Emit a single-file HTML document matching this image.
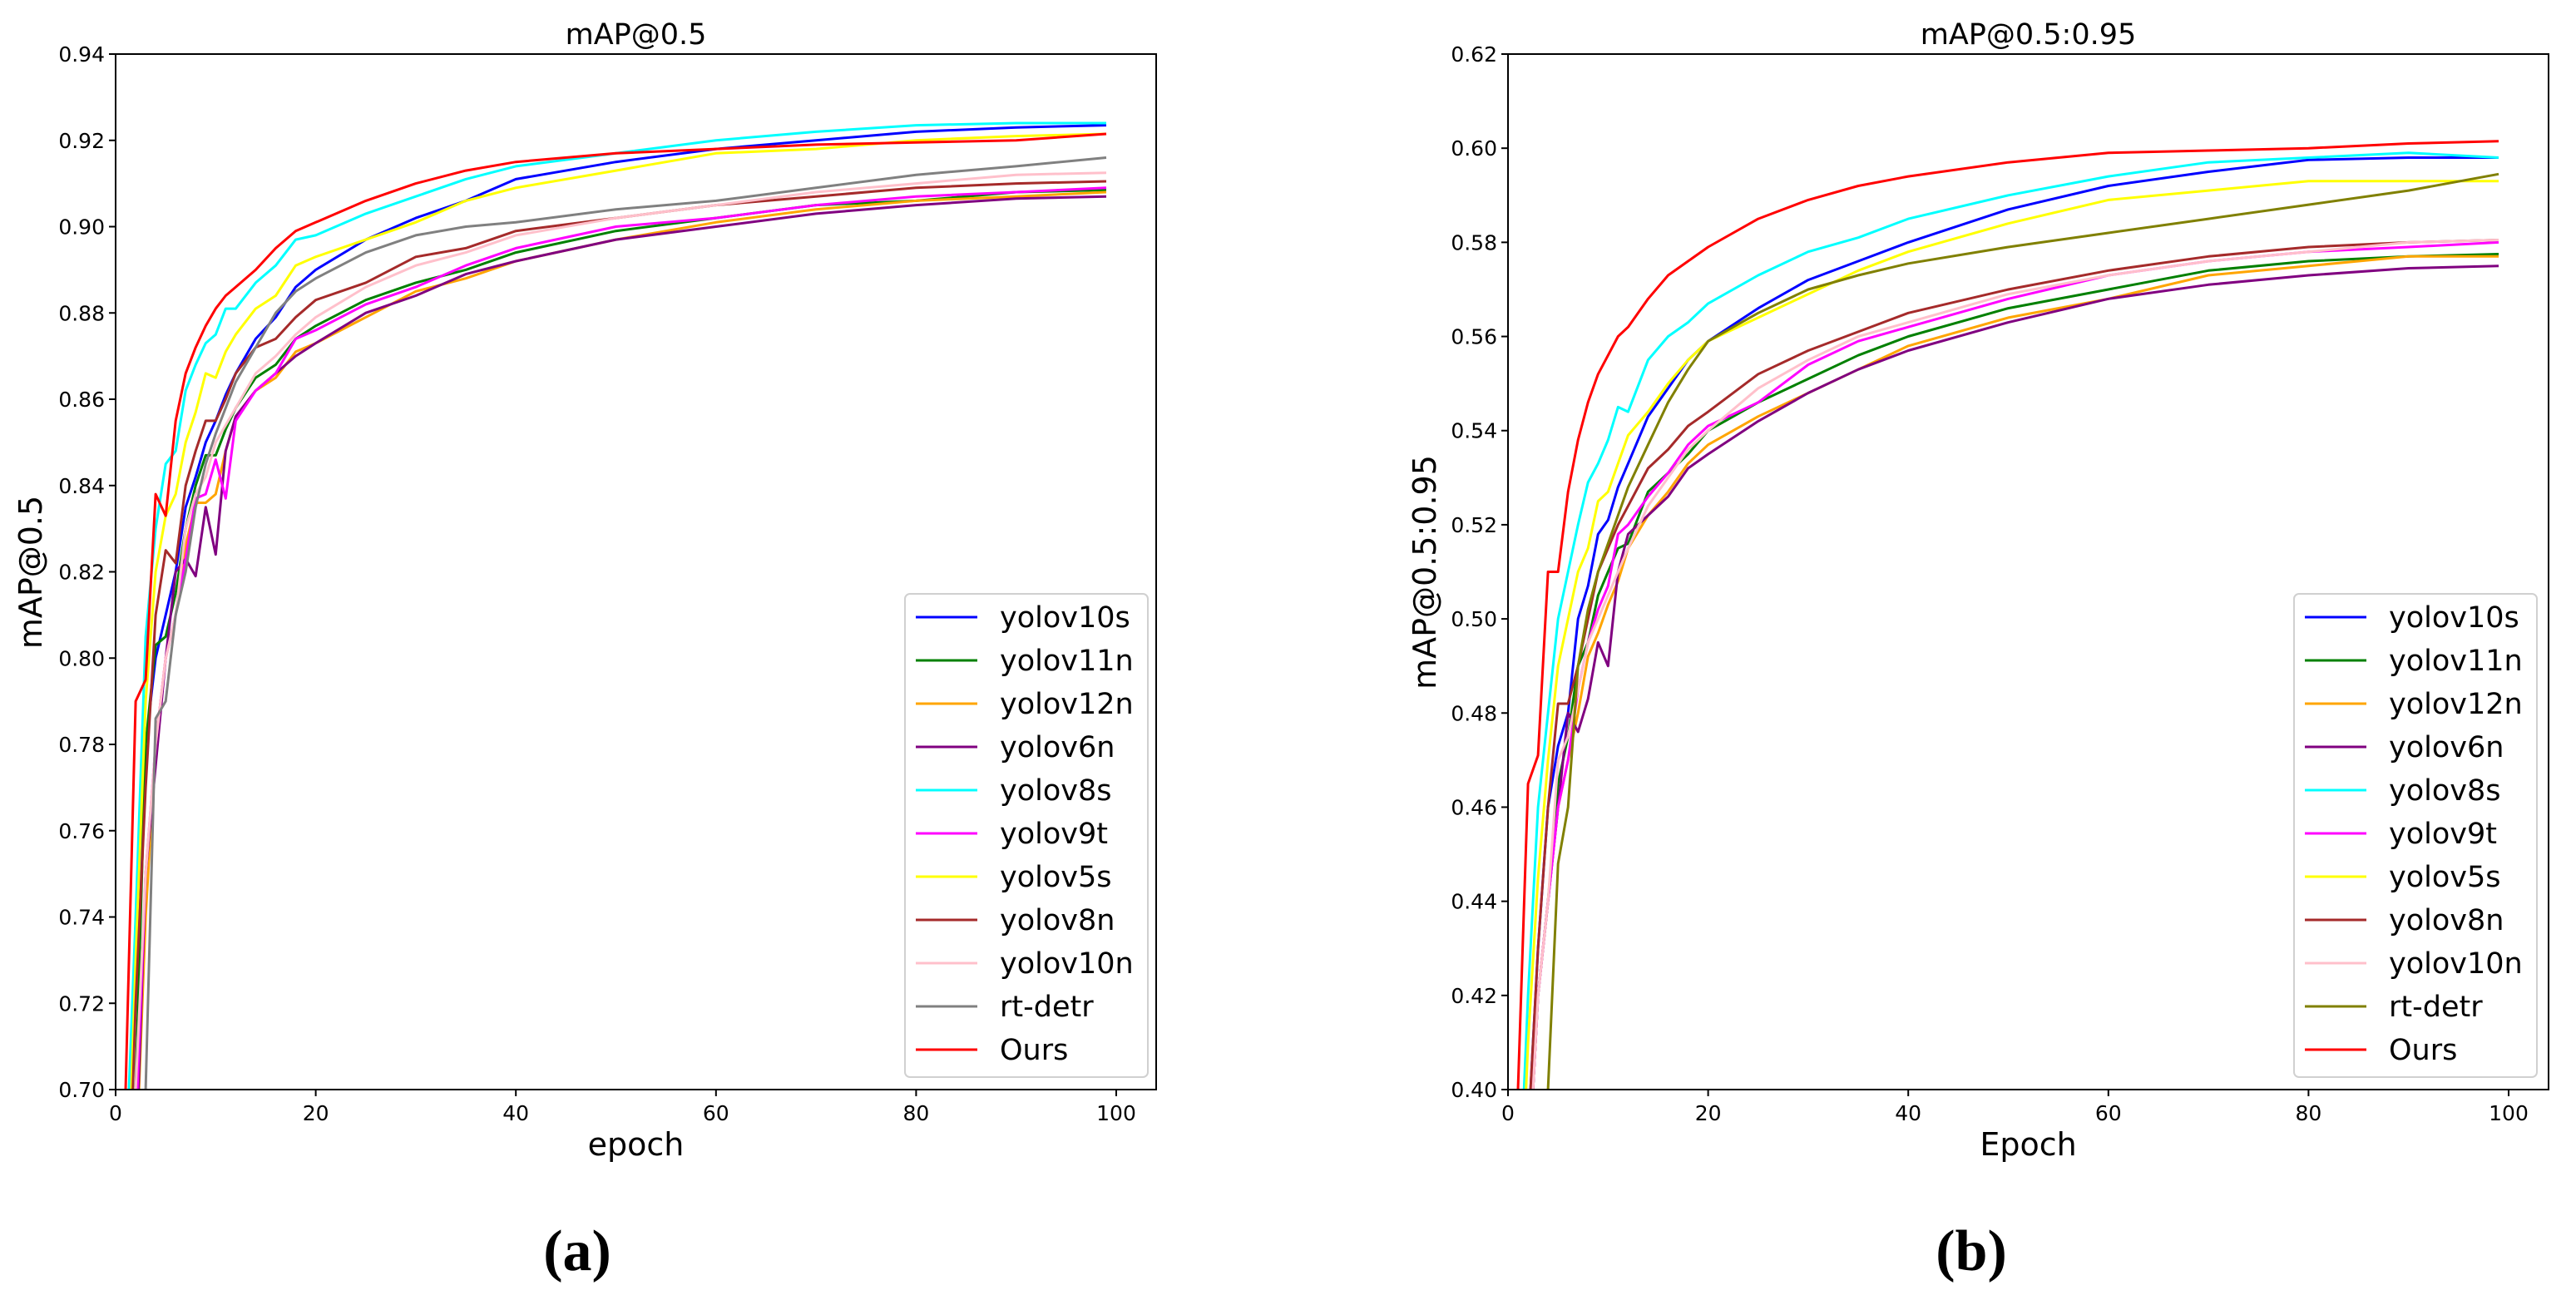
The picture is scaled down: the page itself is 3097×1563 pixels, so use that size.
<!DOCTYPE html>
<html><head><meta charset="utf-8"><style>
html,body{margin:0;padding:0;background:#fff;width:3097px;height:1563px;overflow:hidden;}
svg{display:block;font-family:"DejaVu Sans","Liberation Sans",sans-serif;}
</style></head><body>
<svg id="fig" width="3097" height="1563" viewBox="0 0 3097 1563" xmlns="http://www.w3.org/2000/svg"></svg>
<script>
const epochs = [1,2,3,4,5,6,7,8,9,10,11,12,14,16,18,20,25,30,35,40,50,60,70,80,90,99];
const seriesNames = ["yolov10s","yolov11n","yolov12n","yolov6n","yolov8s","yolov9t","yolov5s","yolov8n","yolov10n","rt-detr","Ours"];
const colorsA = ["#0000ff","#008000","#ffa500","#800080","#00ffff","#ff00ff","#ffff00","#a52a2a","#ffc0cb","#808080","#ff0000"];
const colorsB = ["#0000ff","#008000","#ffa500","#800080","#00ffff","#ff00ff","#ffff00","#a52a2a","#ffc0cb","#808000","#ff0000"];
const ticksA = ["0.70","0.72","0.74","0.76","0.78","0.80","0.82","0.84","0.86","0.88","0.90","0.92","0.94"];
const ticksB = ["0.40","0.42","0.44","0.46","0.48","0.50","0.52","0.54","0.56","0.58","0.60","0.62"];
const xTicks = [0,20,40,60,80,100];
// chart (a) mAP@0.5
const a_yolov10s = [0.66,0.72,0.78,0.80,0.81,0.82,0.835,0.842,0.850,0.855,0.861,0.866,0.874,0.879,0.886,0.890,0.897,0.902,0.906,0.911,0.915,0.918,0.920,0.922,0.923,0.9235];
const a_yolov11n = [0.64,0.70,0.78,0.803,0.805,0.815,0.830,0.840,0.847,0.847,0.853,0.858,0.865,0.868,0.874,0.877,0.883,0.887,0.890,0.894,0.899,0.902,0.905,0.906,0.908,0.9085];
const a_yolov12n = [0.63,0.68,0.74,0.78,0.80,0.81,0.826,0.836,0.836,0.838,0.848,0.856,0.862,0.865,0.871,0.873,0.879,0.885,0.888,0.892,0.897,0.901,0.904,0.906,0.907,0.908];
const a_yolov6n = [0.63,0.68,0.75,0.775,0.80,0.82,0.823,0.819,0.835,0.824,0.848,0.856,0.862,0.866,0.870,0.873,0.880,0.884,0.889,0.892,0.897,0.900,0.903,0.905,0.9065,0.907];
const a_yolov8s = [0.68,0.74,0.805,0.830,0.845,0.848,0.862,0.868,0.873,0.875,0.881,0.881,0.887,0.891,0.897,0.898,0.903,0.907,0.911,0.914,0.917,0.920,0.922,0.9235,0.924,0.924];
const a_yolov9t = [0.63,0.69,0.75,0.78,0.80,0.81,0.823,0.837,0.838,0.846,0.837,0.855,0.862,0.866,0.874,0.876,0.882,0.886,0.891,0.895,0.900,0.902,0.905,0.907,0.908,0.909];
const a_yolov5s = [0.66,0.73,0.79,0.82,0.833,0.838,0.850,0.857,0.866,0.865,0.871,0.875,0.881,0.884,0.891,0.893,0.897,0.901,0.906,0.909,0.913,0.917,0.918,0.920,0.921,0.9215];
const a_yolov8n = [0.65,0.72,0.77,0.81,0.825,0.822,0.840,0.848,0.855,0.855,0.860,0.866,0.872,0.874,0.879,0.883,0.887,0.893,0.895,0.899,0.902,0.905,0.907,0.909,0.910,0.9105];
const a_yolov10n = [0.64,0.70,0.75,0.78,0.80,0.81,0.830,0.838,0.842,0.850,0.854,0.858,0.866,0.870,0.875,0.879,0.886,0.891,0.894,0.898,0.902,0.905,0.908,0.910,0.912,0.9125];
const a_rtdetr = [0.62,0.66,0.70,0.786,0.790,0.810,0.820,0.835,0.845,0.852,0.858,0.864,0.872,0.880,0.885,0.888,0.894,0.898,0.900,0.901,0.904,0.906,0.909,0.912,0.914,0.916];
const a_ours = [0.70,0.790,0.795,0.838,0.833,0.855,0.866,0.872,0.877,0.881,0.884,0.886,0.890,0.895,0.899,0.901,0.906,0.910,0.913,0.915,0.917,0.918,0.919,0.9195,0.920,0.9215];
// chart (b) mAP@0.5:0.95
const b_yolov10s = [0.36,0.39,0.43,0.46,0.473,0.480,0.500,0.507,0.518,0.521,0.528,0.533,0.543,0.549,0.555,0.559,0.566,0.572,0.576,0.580,0.587,0.592,0.595,0.5975,0.598,0.598];
const b_yolov11n = [0.35,0.38,0.42,0.44,0.465,0.475,0.490,0.495,0.505,0.510,0.515,0.516,0.527,0.531,0.535,0.540,0.546,0.551,0.556,0.560,0.566,0.570,0.574,0.576,0.577,0.5775];
const b_yolov12n = [0.35,0.38,0.42,0.44,0.460,0.470,0.480,0.492,0.497,0.503,0.508,0.515,0.522,0.527,0.533,0.537,0.543,0.548,0.553,0.558,0.564,0.568,0.573,0.575,0.577,0.577];
const b_yolov6n = [0.35,0.38,0.42,0.44,0.460,0.480,0.476,0.483,0.495,0.490,0.510,0.518,0.522,0.526,0.532,0.535,0.542,0.548,0.553,0.557,0.563,0.568,0.571,0.573,0.5745,0.575];
const b_yolov8s = [0.37,0.42,0.46,0.48,0.500,0.510,0.520,0.529,0.533,0.538,0.545,0.544,0.555,0.560,0.563,0.567,0.573,0.578,0.581,0.585,0.590,0.594,0.597,0.598,0.599,0.598];
const b_yolov9t = [0.35,0.38,0.42,0.44,0.460,0.470,0.485,0.495,0.502,0.507,0.518,0.520,0.526,0.531,0.537,0.541,0.546,0.554,0.559,0.562,0.568,0.573,0.576,0.578,0.579,0.580];
const b_yolov5s = [0.36,0.41,0.445,0.47,0.490,0.500,0.510,0.515,0.525,0.527,0.533,0.539,0.544,0.550,0.555,0.559,0.564,0.569,0.574,0.578,0.584,0.589,0.591,0.593,0.593,0.593];
const b_yolov8n = [0.35,0.39,0.43,0.46,0.482,0.482,0.490,0.500,0.510,0.515,0.520,0.524,0.532,0.536,0.541,0.544,0.552,0.557,0.561,0.565,0.570,0.574,0.577,0.579,0.580,0.5805];
const b_yolov10n = [0.35,0.38,0.42,0.44,0.470,0.475,0.485,0.495,0.500,0.505,0.510,0.515,0.524,0.530,0.536,0.540,0.549,0.555,0.560,0.563,0.569,0.573,0.576,0.578,0.580,0.5805];
const b_rtdetr = [0.33,0.34,0.36,0.40,0.448,0.460,0.490,0.502,0.510,0.516,0.522,0.528,0.537,0.546,0.553,0.559,0.565,0.570,0.573,0.5755,0.579,0.582,0.585,0.588,0.591,0.5945];
const b_ours = [0.40,0.465,0.471,0.510,0.510,0.527,0.538,0.546,0.552,0.556,0.560,0.562,0.568,0.573,0.576,0.579,0.585,0.589,0.592,0.594,0.597,0.599,0.5995,0.600,0.601,0.6015];

const seriesA = [a_yolov10s,a_yolov11n,a_yolov12n,a_yolov6n,a_yolov8s,a_yolov9t,a_yolov5s,a_yolov8n,a_yolov10n,a_rtdetr,a_ours];
const seriesB = [b_yolov10s,b_yolov11n,b_yolov12n,b_yolov6n,b_yolov8s,b_yolov9t,b_yolov5s,b_yolov8n,b_yolov10n,b_rtdetr,b_ours];

const NS = "http://www.w3.org/2000/svg";
const svg = document.getElementById("fig");
function mk(tag, attrs, parent) {
  const e = document.createElementNS(NS, tag);
  for (const k in attrs) e.setAttribute(k, attrs[k]);
  (parent || svg).appendChild(e);
  return e;
}
function txt(s, attrs, parent) { const t = mk("text", attrs, parent); t.textContent = s; return t; }

function drawChart(cfg) {
  const g = mk("g", {});
  
  
  const L = cfg.left, R = cfg.right, T = 65, B = 1310;
  const ppe = 12.03;
  const xs = e => L + e * ppe;
  const ys = v => B - (v - cfg.ymin) / (cfg.ymax - cfg.ymin) * (B - T);
  const clipId = "clip-" + cfg.id;
  const cp = mk("clipPath", {id: clipId}, g);
  mk("rect", {x: L, y: T, width: R - L, height: B - T}, cp);
  const lines = mk("g", {"clip-path": "url(#" + clipId + ")"}, g);
  
  
  cfg.series.forEach((arr, i) => {
    const d = arr.map((v, j) => (j ? "L" : "M") + xs(epochs[j]).toFixed(1) + " " + ys(v).toFixed(1)).join(" ");
    const p = mk("path", {d: d, fill: "none", stroke: cfg.colors[i], "stroke-width": 3, "stroke-linejoin": "round"}, lines);
    
    
  });
  const fr = mk("rect", {x: L, y: T, width: R - L, height: B - T, fill: "none", stroke: "#000", "stroke-width": 2}, g);
  
  
  cfg.ticks.forEach(t => {
    const y = ys(parseFloat(t));
    mk("line", {x1: L - 8, x2: L, y1: y, y2: y, stroke: "#000", "stroke-width": 2}, g);
    const lb = txt(t, {x: L - 13, y: y + 9, "font-size": 25, "text-anchor": "end", fill: "#000"}, g);
    
    
  });
  xTicks.forEach(t => {
    const x = xs(t);
    mk("line", {x1: x, x2: x, y1: B, y2: B + 8, stroke: "#000", "stroke-width": 2}, g);
    const lb = txt(String(t), {x: x, y: B + 37, "font-size": 25, "text-anchor": "middle", fill: "#000"}, g);
    
    
  });
  const cx = (L + R) / 2;
  const ti = txt(cfg.title, {x: cx, y: 53, "font-size": 35, "text-anchor": "middle"}, g);
  
  
  const xl = txt(cfg.xlabel, {x: cx, y: 1389, "font-size": 38, "text-anchor": "middle"}, g);
  
  
  const yl = txt(cfg.ylabel, {x: 0, y: 0, "font-size": 38, "text-anchor": "middle", transform: "translate(" + cfg.ylx + ",688) rotate(-90)"}, g);
  
  
  const lg = mk("g", {}, g);
  
  
  mk("rect", {x: cfg.legX, y: 714, width: 292, height: 581, rx: 6, fill: "#fff", "fill-opacity": 0.8, stroke: "#d0d0d0", "stroke-width": 2}, lg);
  seriesNames.forEach((n, i) => {
    const y = 742 + i * 52;
    const en = mk("g", {}, lg);
    
    
    mk("line", {x1: cfg.legX + 13, x2: cfg.legX + 87, y1: y, y2: y, stroke: cfg.colors[i], "stroke-width": 3}, en);
    txt(n, {x: cfg.legX + 114, y: y + 12, "font-size": 35}, en);
  });
  const cap = txt(cfg.cap, {x: cfg.capX, y: 1527, "font-size": 70, "font-weight": "bold", "text-anchor": "middle", "font-family": "Liberation Serif, serif"}, g);
  
  
}

drawChart({id: "map50", left: 139, right: 1390, ymin: 0.70, ymax: 0.94, ticks: ticksA, series: seriesA, colors: colorsA,
  title: "mAP@0.5", xlabel: "epoch", ylabel: "mAP@0.5", ylx: 50, legX: 1088, cap: "(a)", capX: 694});
drawChart({id: "map5095", left: 1813, right: 3064, ymin: 0.40, ymax: 0.62, ticks: ticksB, series: seriesB, colors: colorsB,
  title: "mAP@0.5:0.95", xlabel: "Epoch", ylabel: "mAP@0.5:0.95", ylx: 1726, legX: 2758, cap: "(b)", capX: 2370});
</script>
</body></html>
